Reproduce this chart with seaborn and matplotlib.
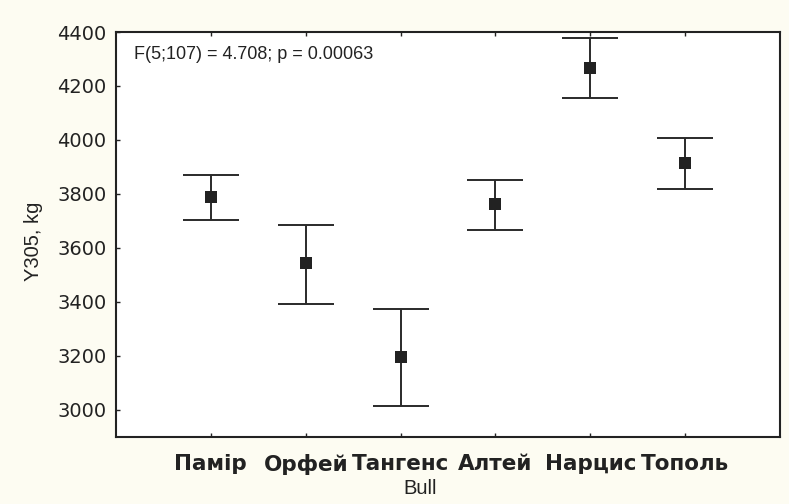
import matplotlib
matplotlib.use("Agg")
import matplotlib.pyplot as plt
import seaborn as sns
import numpy as np

bulls = ["Памір", "Орфей", "Тангенс", "Алтей", "Нарцис", "Тополь"]
means = [3790, 3543, 3197, 3762, 4268, 3916]
upper = [3870, 3685, 3374, 3851, 4377, 4009]
lower = [3704, 3394, 3015, 3666, 4154, 3817]
y_ticks = [3000, 3200, 3400, 3600, 3800, 4000, 4200, 4400]
stat_text = "F(5;107) = 4.708; p = 0.00063"

sns.set_theme(style="white")
plt.rcParams["font.family"] = ["DejaVu Sans"]

fig = plt.figure(figsize=(7.89, 5.04), dpi=100, facecolor="#fdfcf2")
ax = fig.add_axes([0.147, 0.133, 0.8416, 0.8035])
ax.set_facecolor("white")

pos = np.arange(len(bulls))
err = [np.array(means) - np.array(lower), np.array(upper) - np.array(means)]
ax.errorbar(pos, means, yerr=err, fmt="none", ecolor="#2a2a2a",
            elinewidth=1.4, capsize=20, capthick=1.4, zorder=2)
sns.scatterplot(x=pos, y=means, marker="s", s=80, color="#222222",
                edgecolor="#222222", linewidth=0, ax=ax, zorder=3)

ax.set_xlim(-1, 6)
ax.set_ylim(2900, 4400)
ax.set_yticks(y_ticks)
ax.set_yticklabels([str(v) for v in y_ticks], fontsize=14, color="#222222")
ax.set_xticks(pos)
ax.set_xticklabels(bulls, fontsize=15.5, fontweight="semibold", color="#222222")

ax.tick_params(axis="both", direction="in", length=3, width=1, color="#222222",
               top=True, bottom=True, left=True, right=False)
ax.tick_params(axis="x", pad=12)
ax.tick_params(axis="y", pad=7)

for side in ax.spines.values():
    side.set_visible(True)
    side.set_color("#222222")
    side.set_linewidth(1.5)

ax.set_xlabel("Bull", fontsize=14.5, color="#222222", family="Liberation Sans")
ax.xaxis.set_label_coords(0.458, -0.105)
ax.set_ylabel("Y305, kg", fontsize=14.5, color="#222222", family="Liberation Sans")
ax.yaxis.set_label_coords(-0.11, 0.484)

ax.text(0.027, 0.944, stat_text, transform=ax.transAxes, fontsize=13,
        family="Liberation Sans", color="#222222", va="center", ha="left")

fig.savefig("out.png", dpi=100, facecolor=fig.get_facecolor())
